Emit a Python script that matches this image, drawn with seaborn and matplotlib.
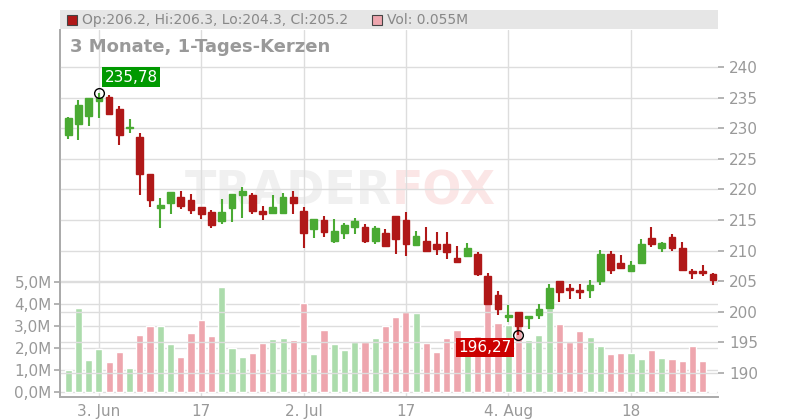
import numpy as np
import pandas as pd
import matplotlib.pyplot as plt
from matplotlib.patches import Rectangle
import seaborn as sns

# OHLC + volume
opens = [228.9, 230.7, 232.0, 234.5, 235.1, 233.1, 230.0, 228.5, 222.6, 217.0, 217.7, 218.8, 218.3, 217.1, 216.3, 214.9,
         216.9, 219.1, 219.1, 216.5, 216.2, 216.2, 218.8, 216.5, 213.6, 215.0, 211.6, 212.8, 213.8, 213.9, 211.6, 212.9,
         215.7, 215.0, 210.9, 211.6, 211.1, 211.1, 208.8, 209.1, 209.5, 205.9, 202.8, 199.2, 200.0, 199.0, 199.4, 200.7,
         205.0, 203.7, 203.6, 203.6, 205.1, 209.4, 208.0, 206.7, 208.0, 212.1, 210.5, 212.2, 210.4, 206.7, 206.7, 206.2]
closes = [231.6, 233.8, 235.0, 235.0, 232.3, 228.9, 230.2, 222.6, 218.2, 217.4, 219.5, 217.3, 216.7, 216.0, 214.2, 216.3,
          219.2, 219.7, 216.4, 216.0, 217.1, 218.8, 217.8, 212.8, 215.2, 213.1, 213.2, 214.2, 214.8, 211.6, 213.7, 210.8,
          211.9, 211.0, 212.4, 209.9, 210.3, 209.8, 208.1, 210.4, 206.2, 201.3, 200.5, 199.5, 197.7, 199.2, 200.5, 203.9,
          203.3, 203.6, 203.3, 204.4, 209.4, 206.9, 207.2, 207.6, 211.1, 211.1, 211.2, 210.5, 206.9, 206.4, 206.4, 205.2]
highs = [231.9, 234.6, 235.0, 235.78, 235.5, 233.6, 231.5, 229.2, 222.6, 218.6, 219.5, 219.7, 219.2, 217.1, 216.6, 218.4,
         219.2, 220.4, 219.4, 217.3, 219.1, 219.4, 219.7, 217.2, 215.2, 215.7, 215.1, 214.5, 215.4, 214.4, 214.1, 213.6,
         215.7, 216.3, 213.2, 213.9, 213.0, 213.0, 210.8, 211.2, 209.8, 206.3, 203.4, 201.1, 200.0, 199.2, 201.2, 204.5,
         205.0, 204.6, 204.6, 205.2, 210.1, 209.9, 209.3, 208.3, 211.9, 213.9, 211.4, 212.7, 211.4, 207.0, 207.6, 206.3]
lows = [228.3, 228.1, 230.4, 231.6, 232.2, 227.3, 229.3, 219.1, 217.2, 213.7, 216.0, 216.8, 216.0, 215.2, 213.7, 214.4,
        214.7, 215.4, 216.0, 215.0, 216.0, 216.0, 216.0, 210.5, 212.1, 212.3, 211.3, 211.9, 212.7, 211.3, 211.1, 210.8,
        209.5, 209.1, 210.8, 209.8, 209.3, 208.6, 207.9, 208.9, 205.9, 201.3, 199.5, 198.4, 196.27, 197.2, 198.8, 200.5,
        201.6, 202.1, 202.1, 202.3, 204.3, 206.2, 207.2, 206.7, 208.0, 210.6, 209.7, 210.0, 206.9, 205.3, 205.9, 204.3]
volumes = [1.00, 3.82, 1.45, 1.95, 1.36, 1.82, 1.09, 2.59, 3.00, 3.00, 2.18, 1.59, 2.68, 3.27, 2.55, 4.77,
           2.00, 1.59, 1.77, 2.23, 2.41, 2.45, 2.36, 4.03, 1.73, 2.82, 2.18, 1.91, 2.27, 2.27, 2.45, 3.00,
           3.41, 3.62, 3.59, 2.23, 1.82, 2.45, 2.82, 1.90, 2.55, 4.41, 3.14, 3.05, 3.05, 2.36, 2.59, 3.82,
           3.09, 2.27, 2.77, 2.50, 2.09, 1.73, 1.77, 1.77, 1.50, 1.91, 1.55, 1.50, 1.41, 2.09, 1.41, 0.055]
date_tick_pos = [3, 13, 23, 33, 43, 55]
date_tick_labels = ["3. Jun", "17", "2. Jul", "17", "4. Aug", "18"]
price_ticks = [190, 195, 200, 205, 210, 215, 220, 225, 230, 235, 240]
vol_ticks = [0, 1, 2, 3, 4, 5]

df = pd.DataFrame({"o": opens, "h": highs, "l": lows, "c": closes, "v": volumes})
df["i"] = np.arange(len(df))
df["dir"] = np.where(df["c"] >= df["o"], "up", "down")

sns.set_theme(style="white")
fig = plt.figure(figsize=(8, 4.2), dpi=100)
ax_v = fig.add_axes([60 / 800, 23 / 420, 658 / 800, 367 / 420])
ax_p = ax_v.twinx()
ax_v.patch.set_visible(False)
ax_p.patch.set_visible(False)

GREEN, RED = "#4aaa33", "#b01818"
# Volume bars
sns.barplot(data=df, x="i", y="v", hue="dir", palette={"up": "#acdcac", "down": "#eea6ae"},
            native_scale=True, width=0.7, legend=False, ax=ax_v, saturation=1, zorder=1)
ax_v.set_ylim(-0.227, 16.45)
ax_v.set_xlim(-0.8, len(df) - 0.5)
ax_v.set_yticks(vol_ticks)
ax_v.set_yticklabels([f"{t},0M" for t in vol_ticks], fontsize=11, color="#999999")
ax_v.set_xticks(date_tick_pos)
ax_v.set_xticklabels(date_tick_labels, fontsize=11, color="#999999")
ax_v.set_xlabel("")
ax_v.set_ylabel("")
for t in vol_ticks:
    ax_v.axhline(t, color="#dddddd", lw=1, zorder=0)
for p in date_tick_pos:
    ax_v.axvline(p, color="#dddddd", lw=1, zorder=0)
ax_v.tick_params(axis="y", length=4, color="#aaaaaa", pad=2)
ax_v.tick_params(axis="x", length=4, color="#aaaaaa", pad=1)

# Candles
ax_p.set_ylim(186.08, 246.05)
for _, r in df.iterrows():
    col = GREEN if r["dir"] == "up" else RED
    ax_p.vlines(r["i"], r["l"], r["h"], color=col, lw=1.5, zorder=3)
    lo, hi = min(r["o"], r["c"]), max(r["o"], r["c"])
    ax_p.add_patch(Rectangle((r["i"] - 0.33, lo), 0.66, max(hi - lo, 0.25), color=col, zorder=4))
for t in price_ticks:
    ax_p.axhline(t, color="#dddddd", lw=1, zorder=0)
ax_p.set_yticks(price_ticks)
ax_p.set_yticklabels([str(t) for t in price_ticks], fontsize=11, color="#999999")
ax_p.tick_params(axis="y", length=4, color="#aaaaaa", pad=4)
ax_p.set_ylabel("")

for a in (ax_v, ax_p):
    for s in ("top", "right"):
        a.spines[s].set_visible(False)
    a.spines["left"].set_color("#aaaaaa")
    a.spines["bottom"].set_color("#aaaaaa")

# High / low markers
hi_i = int(np.argmax(highs)); lo_i = int(np.argmin(lows))
ax_p.plot(hi_i, highs[hi_i], "o", mfc="none", mec="black", ms=7, zorder=6)
ax_p.plot(lo_i, lows[lo_i], "o", mfc="none", mec="black", ms=7, zorder=6)
ax_p.annotate(f"{highs[hi_i]:.2f}".replace(".", ","), (hi_i, highs[hi_i]), xytext=(4, 6), textcoords="offset points",
              fontsize=11, color="white", ha="left", va="bottom", zorder=7,
              bbox=dict(boxstyle="square,pad=0.15", fc="#009900", ec="none"))
ax_p.annotate(f"{lows[lo_i]:.2f}".replace(".", ","), (lo_i, lows[lo_i]), xytext=(-5, -4), textcoords="offset points",
              fontsize=11, color="white", ha="right", va="top", zorder=7,
              bbox=dict(boxstyle="square,pad=0.15", fc="#cc0000", ec="none"))

# Watermark
fig.text(392 / 800, 1 - 192 / 420, "TRADER", fontsize=33, fontweight="bold", color="#f0f0f0", ha="right", va="center", zorder=-1)
fig.text(392 / 800, 1 - 192 / 420, "FOX", fontsize=33, fontweight="bold", color="#fbe6e6", ha="left", va="center", zorder=-1)

# Header
fig.patches.append(Rectangle((60 / 800, 1 - 29 / 420), 658 / 800, 19 / 420, transform=fig.transFigure,
                             fc="#e6e6e6", ec="none"))
fig.patches.append(Rectangle((67 / 800, 1 - 25 / 420), 10 / 800, 10 / 420, transform=fig.transFigure,
                             fc=RED, ec="#444444", lw=0.8))
fig.text(82 / 800, 1 - 20 / 420, "Op:206.2, Hi:206.3, Lo:204.3, Cl:205.2", fontsize=10, color="#888888", va="center")
fig.patches.append(Rectangle((372 / 800, 1 - 25 / 420), 10 / 800, 10 / 420, transform=fig.transFigure,
                             fc="#eea6ae", ec="#444444", lw=0.8))
fig.text(387 / 800, 1 - 20 / 420, "Vol: 0.055M", fontsize=10, color="#888888", va="center")
fig.text(70 / 800, 1 - 47 / 420, "3 Monate, 1-Tages-Kerzen", fontsize=13, fontweight="bold", color="#999999", va="center")

fig.savefig("out.png", dpi=100)
